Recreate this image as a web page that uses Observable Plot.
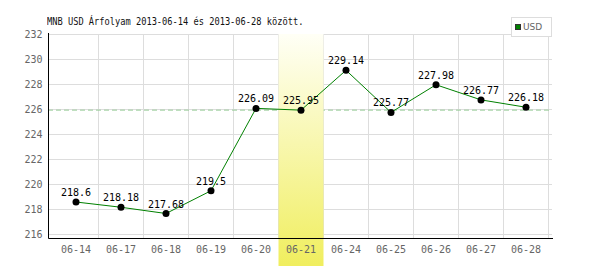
<!DOCTYPE html>
<html><head><meta charset="utf-8">
<script src="https://cdn.jsdelivr.net/npm/d3@7"></script>
<script src="https://cdn.jsdelivr.net/npm/@observablehq/plot@0.6"></script>
<style>
body{margin:0;background:#fff;}
#wrap{position:relative;width:600px;height:270px;overflow:hidden;}
#title{position:absolute;left:47px;top:15px;font-family:"DejaVu Sans Mono";font-size:11px;line-height:13px;transform:scaleX(0.79);transform-origin:left top;white-space:nowrap;color:#111;}
#legend{position:absolute;left:511px;top:17px;width:41px;height:20px;box-sizing:border-box;border:1px solid #ddd;background:#fff;}
#legend .sw{position:absolute;left:3px;top:6px;width:6px;height:6px;background:#008000;border:1px solid #333;box-sizing:border-box;}
#legend .lb{position:absolute;left:11px;top:4px;font-family:"DejaVu Sans";font-size:9px;line-height:11px;color:#666;}
svg{position:absolute;left:0;top:0;}
</style>
</head><body>
<div id="wrap">
  <div id="chart"></div>
  <div id="title">MNB USD Árfolyam 2013-06-14 és 2013-06-28 között.</div>
  <div id="legend"><div class="sw"></div><div class="lb">USD</div></div>
</div>
<script>
const dates = ["06-14","06-17","06-18","06-19","06-20","06-21","06-24","06-25","06-26","06-27","06-28"];
const usd = [218.6, 218.18, 217.68, 219.5, 226.09, 225.95, 229.14, 225.77, 227.98, 226.77, 226.18];
const yTicks = [216, 218, 220, 222, 224, 226, 228, 230, 232];
const highlighted = "06-21";
const yMin = 215.68, yMax = 232;

const data = dates.map((d, i) => ({date: d, value: usd[i]}));

function highlightBand(index, scales, values, dims) {
  const g = d3.create("svg:g");
  const grad = g.append("defs").append("linearGradient")
    .attr("id", "hlgrad").attr("x1", 0).attr("y1", 0).attr("x2", 0).attr("y2", 1);
  grad.append("stop").attr("offset", "0%").attr("stop-color", "#fffff6");
  grad.append("stop").attr("offset", "100%").attr("stop-color", "#f0ee5e");
  const top = scales.y(yMax);
  g.append("rect")
    .attr("x", scales.x(highlighted) + 0.5)
    .attr("width", scales.x.bandwidth())
    .attr("y", top)
    .attr("height", dims.height - 4 - top)
    .attr("fill", "url(#hlgrad)");
  return g.node();
}

function vGrid(index, scales, values, dims) {
  const g = d3.create("svg:g").attr("stroke", "#ddd");
  const bw = scales.x.bandwidth();
  for (const d of dates) {
    const x = Math.round(scales.x(d) + bw) + 0.5;
    g.append("line").attr("x1", x).attr("x2", x)
      .attr("y1", scales.y(yMax) + 0.5).attr("y2", scales.y(yMin) + 0.5);
  }
  return g.node();
}

function axisLines(index, scales, values, dims) {
  const g = d3.create("svg:g").attr("stroke", "#000");
  const x0 = dims.marginLeft + 0.5;
  const yb = scales.y(yMin) + 0.5;
  g.append("line").attr("x1", x0).attr("x2", x0).attr("y1", scales.y(yMax) - 1).attr("y2", yb);
  g.append("line").attr("x1", x0).attr("x2", dims.width - dims.marginRight + 1).attr("y1", yb).attr("y2", yb);
  return g.node();
}

const chart = Plot.plot({
  width: 600,
  height: 270,
  marginLeft: 48,
  marginRight: 48,
  marginTop: 34,
  marginBottom: 32,
  style: {fontFamily: "DejaVu Sans Mono", fontSize: "10px", background: "transparent"},
  x: {type: "band", domain: dates, padding: 0, label: null},
  y: {domain: [yMin, yMax], label: null},
  marks: [
    Plot.ruleY(yTicks, {stroke: "#ddd"}),
    vGrid,
    Plot.ruleY([d3.median(usd)], {stroke: "#99cc99", strokeDasharray: "5,3"}),
    highlightBand,
    axisLines,
    Plot.axisY({ticks: yTicks, tickSize: 0, tickPadding: 6, color: "#666", label: null}),
    Plot.axisX({tickSize: 0, tickPadding: 7, color: "#666", label: null}),
    Plot.line(data, {x: "date", y: "value", stroke: "#008000", strokeWidth: 1}),
    Plot.dot(data, {x: "date", y: "value", r: 3.5, fill: "#000"}),
    Plot.text(data, {x: "date", y: "value", text: d => String(d.value), lineAnchor: "bottom", dy: -6, fill: "#000", fontSize: 10})
  ]
});
document.getElementById("chart").appendChild(chart);
</script>
</body></html>
